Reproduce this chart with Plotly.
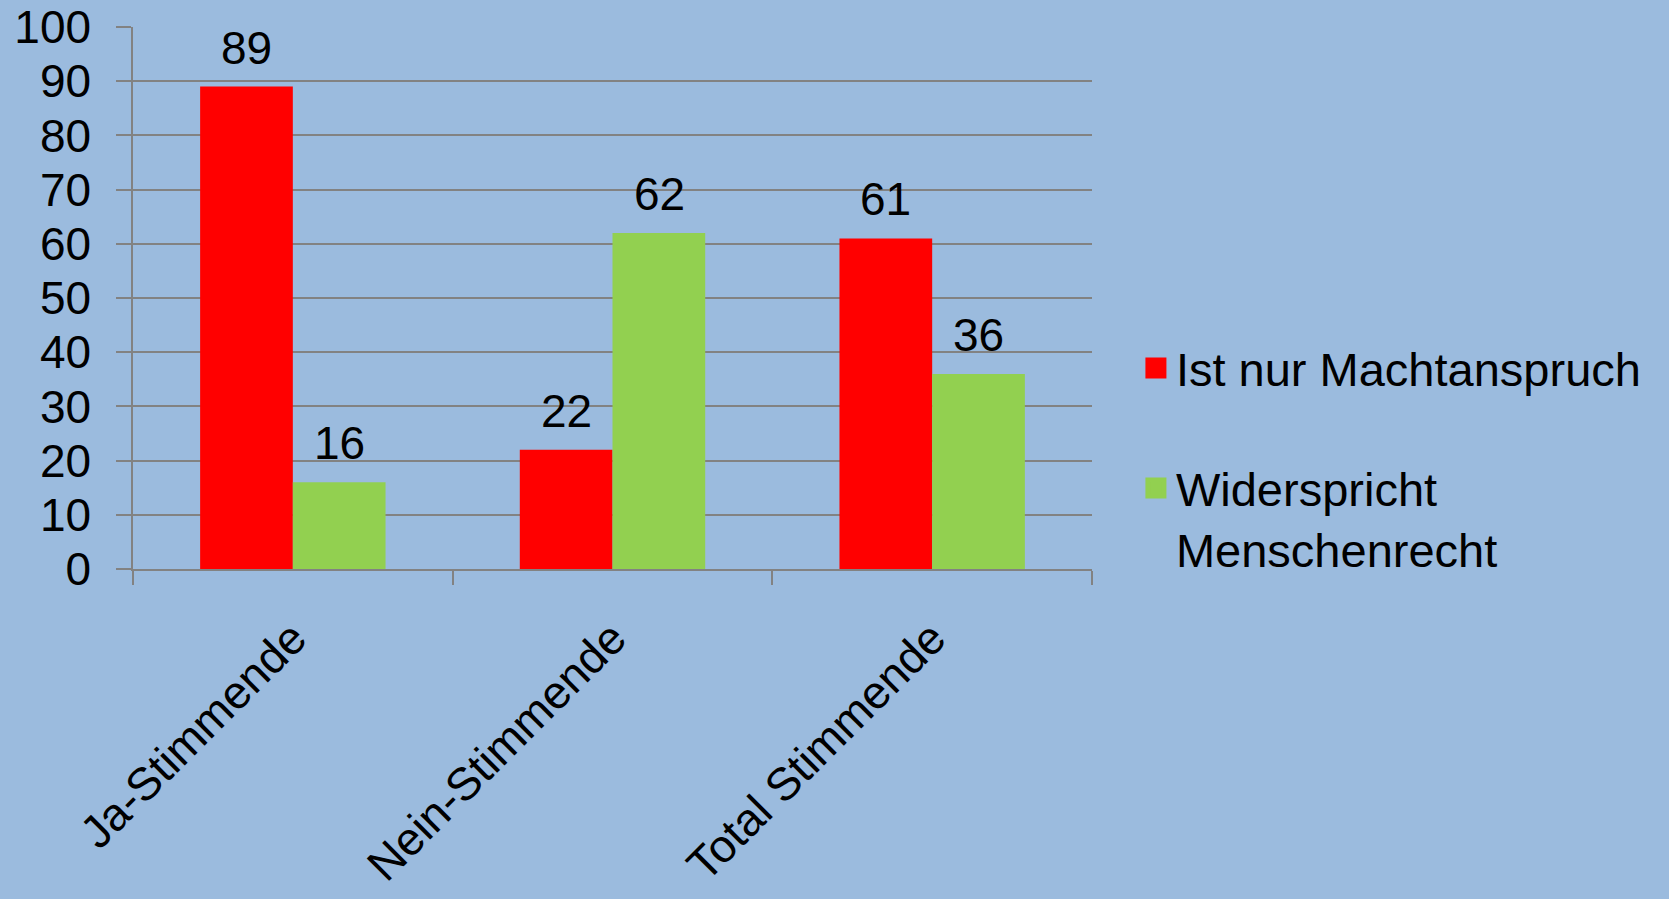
import plotly.graph_objects as go

categories = ["Ja-Stimmende", "Nein-Stimmende", "Total Stimmende"]
machtanspruch = [89, 22, 61]
menschenrecht = [16, 62, 36]
series_names = ["Ist nur Machtanspruch", "Widerspricht<br>Menschenrecht"]
series_colors = ["#FF0000", "#92D050"]
y_ticks = [0, 10, 20, 30, 40, 50, 60, 70, 80, 90, 100]

BG = "#9BBBDE"
GRID = "#828282"
FONT = "Liberation Sans, Arial, sans-serif"
FS = 46

fig = go.Figure()
for vals, name, col, grp in ((machtanspruch, series_names[0], series_colors[0], "a"),
                             (menschenrecht, series_names[1], series_colors[1], "b")):
    fig.add_trace(go.Bar(x=categories, y=vals, name=name,
                         marker=dict(color=col, line=dict(width=0)),
                         showlegend=False, legendgroup=grp))
    # legend entry with a larger square swatch
    fig.add_trace(go.Scatter(x=[None], y=[None], mode="markers", name=name,
                             marker=dict(symbol="square", size=16, color=col,
                                         line=dict(color=col, width=5)),
                             legendgroup=grp, showlegend=True))

ann = []
for vals, shift in ((machtanspruch, -46.5), (menschenrecht, 46.5)):
    for c, v in zip(categories, vals):
        ann.append(dict(x=c, y=v, xref="x", yref="y", text=str(v), showarrow=False,
                        xshift=shift, yanchor="bottom", yshift=11,
                        font=dict(family=FONT, size=FS, color="black")))

fig.update_layout(
    width=1669, height=899,
    paper_bgcolor=BG, plot_bgcolor=BG,
    margin=dict(l=133, r=577, t=27, b=330),
    barmode="group", bargap=0.42, bargroupgap=0,
    font=dict(family=FONT, size=FS, color="black"),
    annotations=ann,
    showlegend=True,
    legend=dict(xref="container", yref="container", x=0.6806, y=0.632,
                xanchor="left", yanchor="top", bgcolor="rgba(0,0,0,0)",
                traceorder="grouped", tracegroupgap=56, valign="top",
                font=dict(family=FONT, size=47, color="black")),
    xaxis=dict(showline=True, linecolor=GRID, linewidth=1.5, ticks="outside",
               tickson="boundaries", ticklen=14, tickcolor=GRID, tickwidth=1.5,
               tickangle=-45, showgrid=False, automargin=False,
               ticklabelstandoff=22,
               tickfont=dict(family=FONT, size=FS, color="black")),
    yaxis=dict(range=[0, 100], tickvals=y_ticks, showline=True, linecolor=GRID,
               linewidth=1.5, ticks="outside", ticklen=15, tickcolor=GRID, tickwidth=1.5,
               showgrid=True, gridcolor=GRID, gridwidth=1.5, zeroline=False,
               ticklabelstandoff=16, automargin=False,
               tickfont=dict(family=FONT, size=FS, color="black")),
)

fig.write_html("out.html", config={"displayModeBar": False},
               post_script="document.body.style.margin='0';")
